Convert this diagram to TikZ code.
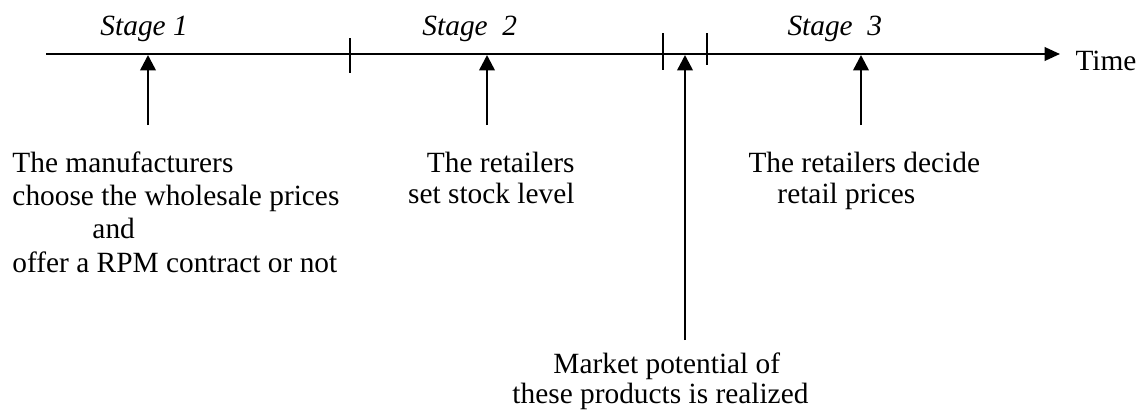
\documentclass[tikz,border=0pt]{standalone}
\usepackage{fontspec}
\setmainfont{Liberation Serif}
\usetikzlibrary{arrows.meta}
\begin{document}
\begin{tikzpicture}[x=0.4138pt,y=-0.4138pt,
  txt/.style={inner sep=0pt, font=\fontsize{12.15}{14}\selectfont},
  stagelbl/.style={inner sep=0pt, font=\fontsize{12.15}{14}\selectfont\itshape},
  axis/.style={line width=0.65pt},
  axisthick/.style={line width=1pt, -{Triangle[width=5.6pt,length=6.4pt]}},
  tickmark/.style={line width=0.65pt},
  evt/.style={line width=1.05pt, -{Triangle[width=6.4pt,length=6.4pt]}}]
\useasboundingbox (0,0) rectangle (1136,412);
% time axis
\coordinate (t0) at (46,54);
\coordinate (tthick) at (938,54);
\coordinate (tend) at (1060,54);
\draw[axis] (t0) -- (tthick);
\draw[axisthick] (tthick) -- (tend);
\node[txt, anchor=base west] (time) at (1075,70) {Time};
% ticks
\coordinate (k1a) at (350,38); \coordinate (k1b) at (350,73);
\coordinate (k2a) at (663,33); \coordinate (k2b) at (663,70);
\coordinate (k3a) at (707,33); \coordinate (k3b) at (707,65);
\draw[tickmark] (k1a) -- (k1b);
\draw[tickmark] (k2a) -- (k2b);
\draw[tickmark] (k3a) -- (k3b);
% stage labels
\node[stagelbl, anchor=base west] (s1) at (100,36) {Stage 1};
\node[stagelbl, anchor=base west] (s2) at (422,36) {Stage\ \ 2};
\node[stagelbl, anchor=base west] (s3) at (787,36) {Stage\ \ 3};
% event arrows
\coordinate (e1s) at (148,125); \coordinate (e1t) at (148,55);
\coordinate (e2s) at (487,125); \coordinate (e2t) at (487,55);
\coordinate (e3s) at (685,340); \coordinate (e3t) at (685,55);
\coordinate (e4s) at (861,125); \coordinate (e4t) at (861,55);
\draw[evt] (e1s) -- (e1t);
\draw[evt] (e2s) -- (e2t);
\draw[evt] (e3s) -- (e3t);
\draw[evt] (e4s) -- (e4t);
% texts stage 1
\node[txt, anchor=base west] (m1) at (12,172) {The manufacturers};
\node[txt, anchor=base west] (m2) at (12,205) {choose the wholesale prices};
\node[txt, anchor=base west] (m3) at (92,238) {and};
\node[txt, anchor=base west] (m4) at (12,272) {offer a RPM contract or not};
% texts stage 2
\node[txt, anchor=base east] (r1) at (575,172) {The retailers};
\node[txt, anchor=base east] (r2) at (575,203) {set stock level};
% texts stage 3
\node[txt, anchor=base west] (d1) at (748,172) {The retailers decide};
\node[txt, anchor=base west] (d2) at (777,203) {retail prices};
% market
\node[txt, anchor=base west] (p1) at (553,373) {Market potential of};
\node[txt, anchor=base west] (p2) at (512,403) {these products is realized};
\end{tikzpicture}
\end{document}
